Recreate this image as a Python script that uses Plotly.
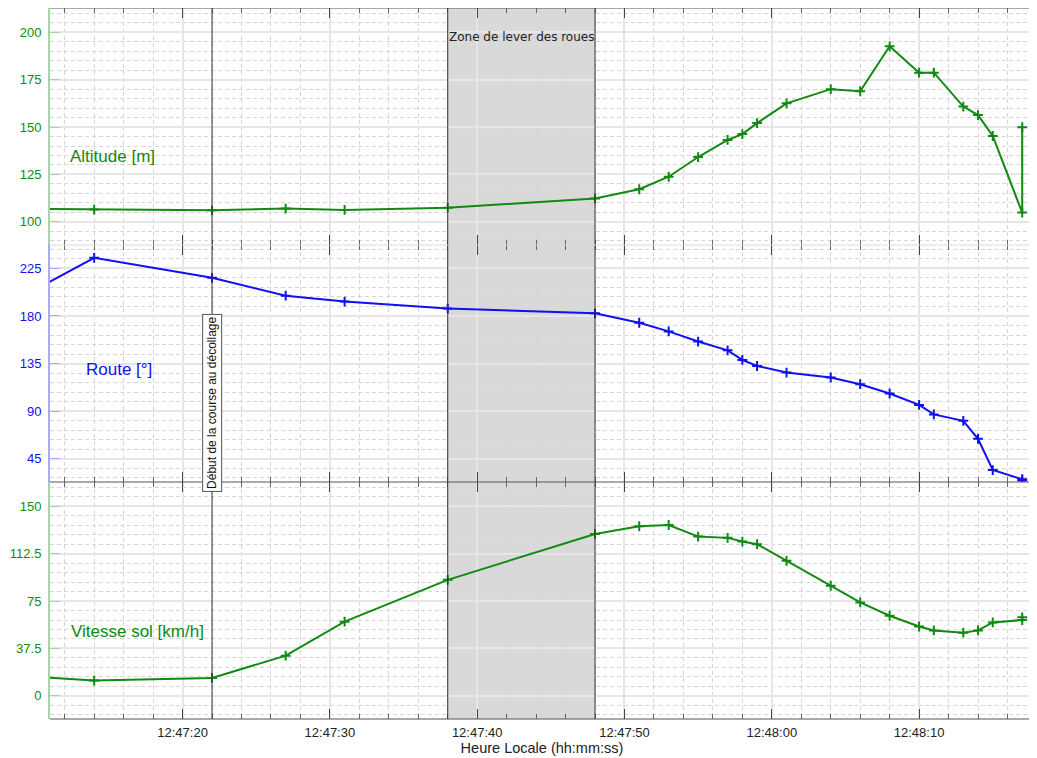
import plotly.graph_objects as go
from plotly.subplots import make_subplots

# ---------------- data ----------------
DAY = "2020-01-01 "
times = ["12:47:10", "12:47:14", "12:47:22", "12:47:27", "12:47:31", "12:47:38",
         "12:47:48", "12:47:51", "12:47:53", "12:47:55", "12:47:57", "12:47:58",
         "12:47:59", "12:48:01", "12:48:04", "12:48:06", "12:48:08", "12:48:10",
         "12:48:11", "12:48:13", "12:48:14", "12:48:15", "12:48:17", "12:48:17"]
altitude = [106.9, 106.5, 106.1, 107.0, 106.3, 107.5, 112.3, 117.2, 123.8, 134.2,
            143.2, 146.3, 152.1, 162.5, 170.0, 168.9, 192.6, 178.7, 178.7, 160.8,
            156.3, 145.3, 104.9, 149.9]
route = [205.0, 235.0, 216.1, 199.2, 193.6, 187.0, 182.5, 173.6, 165.4, 155.8,
         147.5, 138.4, 132.7, 126.5, 121.8, 115.5, 106.7, 95.9, 86.9, 80.8,
         63.9, 34.3, 25.6, 24.5]
vitesse = [15.2, 12.1, 14.2, 31.8, 58.7, 91.8, 128.1, 134.2, 135.2, 126.0,
           125.0, 122.1, 120.0, 106.8, 87.1, 73.9, 63.4, 54.9, 51.8, 50.0,
           51.8, 58.1, 60.0, 62.1]

alt_ticks = [100, 125, 150, 175, 200]
route_ticks = [45, 90, 135, 180, 225]
vit_ticks = [0, 37.5, 75, 112.5, 150]
vit_ticklabels = ["0", "37.5", "75", "112.5", "150"]

x_range = ["12:47:11.0", "12:48:17.8"]
t_debut = "12:47:22"
zone = ["12:47:38", "12:47:48"]

# ---------------- figure ----------------
X = [DAY + t for t in times]
GREEN = "#108a10"
BLUE = "#1010f0"
GREEN_AX = "#a9d3a9"
BLUE_AX = "#a9a9f5"
FONT = "Liberation Sans, Arial, sans-serif"
MINOR_DASH = "4px,3px"

fig = make_subplots(rows=3, cols=1, shared_xaxes=True, vertical_spacing=0)

series = [(altitude, GREEN, 1), (route, BLUE, 2), (vitesse, GREEN, 3)]
for vals, col, r in series:
    fig.add_trace(go.Scatter(
        x=X, y=vals, mode="lines+markers",
        line=dict(color=col, width=2),
        marker=dict(symbol="cross-thin", size=7, line=dict(color=col, width=2)),
        showlegend=False, cliponaxis=True), row=r, col=1)

xcommon = dict(
    type="date",
    range=[DAY + x_range[0], DAY + x_range[1]],
    dtick=10000, tickformat="%H:%M:%S",
    ticks="inside", ticklen=10, tickcolor="#444", tickwidth=1,
    showline=False, mirror="allticks",
    showgrid=True, gridcolor="#e6e6e6", gridwidth=1.5,
    minor=dict(dtick=2000, ticks="inside", ticklen=5, tickcolor="#666",
               showgrid=True, gridcolor="#d6d6d6", griddash=MINOR_DASH, gridwidth=1),
    tickfont=dict(family=FONT, size=13, color="#222"),
    zeroline=False, automargin=False,
)
for r in (1, 2, 3):
    fig.update_xaxes(**xcommon, row=r, col=1)
fig.update_xaxes(showticklabels=False, row=1, col=1)
fig.update_xaxes(showticklabels=False, row=2, col=1)
fig.update_xaxes(ticklabelstandoff=4,
                 title=dict(text="Heure Locale (hh:mm:ss)", standoff=3,
                            font=dict(family=FONT, size=14.5, color="#222")),
                 row=3, col=1)

def ycfg(rng, tv, tt, col, axcol, minor_dt):
    return dict(range=rng, tickvals=tv, ticktext=tt,
                ticks="inside", ticklen=10, tickcolor=axcol, tickwidth=1,
                showline=True, linecolor=axcol, linewidth=2, mirror=False,
                showgrid=True, gridcolor="#e6e6e6", gridwidth=1.5,
                minor=dict(dtick=minor_dt, tick0=0, showgrid=True, gridcolor="#d6d6d6",
                           griddash=MINOR_DASH, gridwidth=1),
                tickfont=dict(family=FONT, size=13, color=col),
                zeroline=False, ticklabelstandoff=4, automargin=False)

fig.update_yaxes(**ycfg([87.8, 212.8], alt_ticks, [str(v) for v in alt_ticks], GREEN, GREEN_AX, 5), row=1, col=1)
fig.update_yaxes(**ycfg([23.0, 247.1], route_ticks, [str(v) for v in route_ticks], BLUE, BLUE_AX, 9), row=2, col=1)
fig.update_yaxes(**ycfg([-18.3, 169.2], vit_ticks, vit_ticklabels, GREEN, GREEN_AX, 7.5), row=3, col=1)

# grey zone and vertical lines across all panels
for r in (1, 2, 3):
    xr = "x" if r == 1 else f"x{r}"
    yr = "y domain" if r == 1 else f"y{r} domain"
    fig.add_shape(type="rect", xref=xr, yref=yr, x0=DAY + zone[0], x1=DAY + zone[1],
                  y0=0, y1=1, fillcolor="#d9d9d9", line=dict(width=0), layer="below")
    for xv in (t_debut, zone[0], zone[1]):
        fig.add_shape(type="line", xref=xr, yref=yr, x0=DAY + xv, x1=DAY + xv,
                      y0=0, y1=1, line=dict(color="#333", width=1), layer="above")

# frame lines: top / bottom dark, upper boundary light, lower boundary dark
for yv, col in ((1, "#555"), (2 / 3, "#d8d8d8"), (1 / 3, "#555"), (0, "#555")):
    fig.add_shape(type="line", xref="paper", yref="paper", x0=0, x1=1, y0=yv, y1=yv,
                  line=dict(color=col, width=1))
fig.add_shape(type="line", xref="paper", yref="paper", x0=1, x1=1, y0=0, y1=1,
              line=dict(color="#666", width=1))

# annotations
fig.add_annotation(xref="x", yref="y", x=DAY + "12:47:12.35", y=134.3, text="Altitude [m]",
                   showarrow=False, xanchor="left", yanchor="middle", xshift=-2,
                   font=dict(family=FONT, size=17, color=GREEN))
fig.add_annotation(xref="x2", yref="y2", x=DAY + "12:47:13.5", y=129, text="Route [°]",
                   showarrow=False, xanchor="left", yanchor="middle", xshift=-3,
                   font=dict(family=FONT, size=17, color=BLUE))
fig.add_annotation(xref="x3", yref="y3", x=DAY + "12:47:12.4", y=51.3, text="Vitesse sol [km/h]",
                   showarrow=False, xanchor="left", yanchor="middle", xshift=-2,
                   font=dict(family=FONT, size=17, color=GREEN))
fig.add_annotation(xref="x", yref="y", x=DAY + zone[0], y=197.5, text="Zone de lever des roues",
                   showarrow=False, xanchor="left", yanchor="middle", xshift=-1,
                   font=dict(family="DejaVu Sans, sans-serif", size=12, color="#222"))
fig.add_annotation(xref="x2", yref="paper", x=DAY + t_debut, y=0.4446,
                   text="Début de la course au décollage", textangle=-90,
                   showarrow=False, xanchor="center", yanchor="middle",
                   bgcolor="white", bordercolor="#555", borderwidth=1, borderpad=2,
                   font=dict(family=FONT, size=12, color="#111"))

# page body has an 8px default margin: size the figure so the plot lands where the reference has it
fig.update_layout(
    width=1029, height=750,
    margin=dict(l=42, r=3, t=0, b=39),
    paper_bgcolor="white", plot_bgcolor="white",
    font=dict(family=FONT),
)

fig.write_html("out.html")
